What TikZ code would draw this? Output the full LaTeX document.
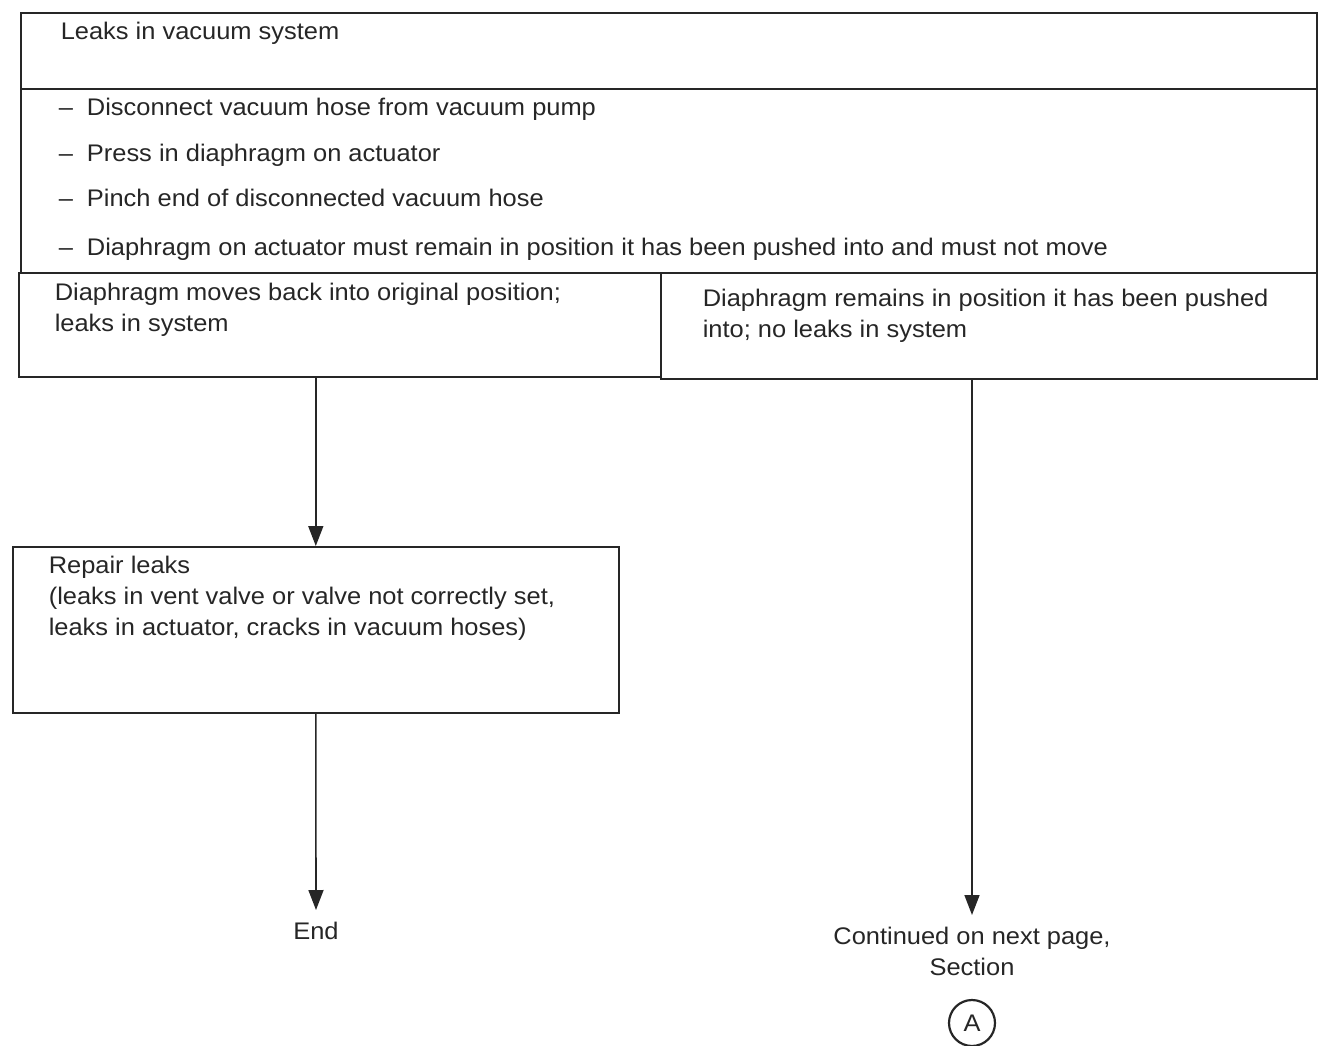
\documentclass[tikz,border=0pt]{standalone}
\usepackage{fontspec}
\setmainfont{Liberation Sans}[FakeStretch=1.06]
\usetikzlibrary{arrows.meta}
\begin{document}
\begin{tikzpicture}[x=1pt,y=-1pt,line width=1.6pt,draw=black!85,
  box/.style={draw,rectangle,anchor=north west,inner sep=0pt},
  txt/.style={anchor=base west,inner sep=0pt,text=black!85,align=left,font=\fontsize{24}{31}\selectfont},
  term/.style={inner sep=0pt,outer sep=12pt,text=black!85,align=center,font=\fontsize{24}{31}\selectfont},
  flow/.style={-{Triangle[length=20pt,width=15pt]}}]
  \useasboundingbox (0,0) rectangle (1318,1046);
  % boxes
  \node[box,minimum width=1296pt,minimum height=76pt] (title) at (20,12) {};
  \node[box,minimum width=1296pt,minimum height=184pt] (steps) at (20,88) {};
  \node[box,minimum width=642pt,minimum height=104pt] (res1) at (18,272) {};
  \node[box,minimum width=656pt,minimum height=106pt] (res2) at (660,272) {};
  \node[box,minimum width=606pt,minimum height=166pt] (repair) at (12,546) {};
  % texts
  \node[txt] (ttitle) at (60,40) {Leaks in vacuum system};
  \foreach \y/\s [count=\i] in {116/Disconnect vacuum hose from vacuum pump,
      161/Press in diaphragm on actuator,
      207/Pinch end of disconnected vacuum hose,
      255/Diaphragm on actuator must remain in position it has been pushed into and must not move}
    \node[txt] (step\i) at (58,\y) {\textendash\hspace{14pt}\s};
  \node[txt,anchor=north west] (tres1) at (54,282) {Diaphragm moves back into original position;\\leaks in system};
  \node[txt,anchor=north west] (tres2) at (702,288) {Diaphragm remains in position it has been pushed\\into; no leaks in system};
  \node[txt,anchor=north west] (trepair) at (48,555) {Repair leaks\\(leaks in vent valve or valve not correctly set,\\leaks in actuator, cracks in vacuum hoses)};
  \node[term,anchor=north] (end) at (316,910) {End};
  \node[term,anchor=north] (cont) at (972,915) {Continued on next page,\\Section};
  \node[draw,circle,line width=2.2pt,minimum size=46pt,inner sep=0pt,text=black!85,font=\fontsize{24}{26}\selectfont] (secA) at (972,1023) {A};
  % connectors
  \draw[flow] (res1.south -| repair.north) -- (repair.north);
  \draw[flow] (repair.south) -- (end.north);
  \draw[flow] (res2.south -| cont.north) -- (cont.north);
\end{tikzpicture}
\end{document}
